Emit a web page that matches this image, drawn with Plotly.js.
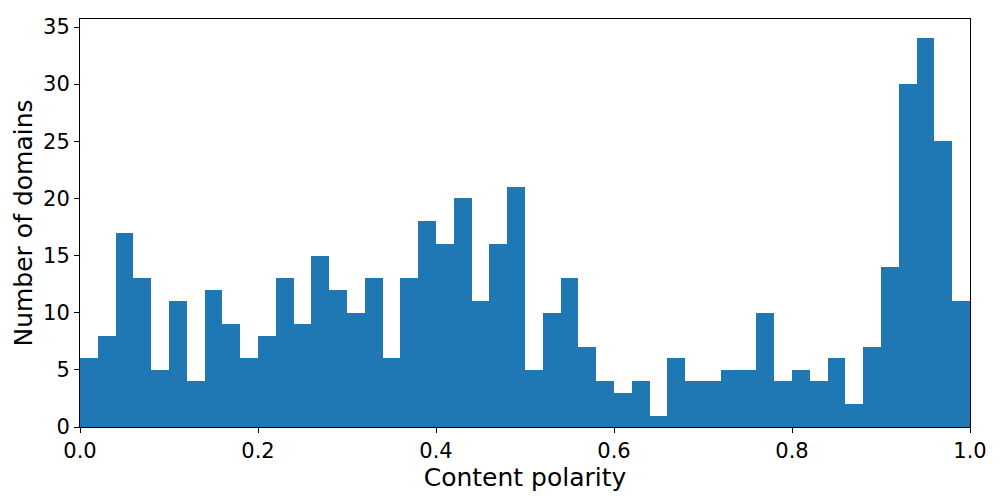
<!DOCTYPE html>
<html>
<head>
<meta charset="utf-8">
<script src="https://cdn.plot.ly/plotly-3.0.1.min.js"></script>
<style>
  body { margin: 0; background: #fff; }
  #chart { width: 1000px; height: 500px; }
</style>
</head>
<body>
<div id="chart"></div>
<script>
// histogram counts, 50 bins over [0, 1]
var binStart = 0;
var binWidth = 0.02;
var counts = [
  6, 8, 17, 13, 5, 11, 4, 12, 9, 6,
  8, 13, 9, 15, 12, 10, 13, 6, 13, 18,
  16, 20, 11, 16, 21, 5, 10, 13, 7, 4,
  3, 4, 1, 6, 4, 4, 5, 5, 10, 4,
  5, 4, 6, 2, 7, 14, 30, 34, 25, 11
];
var xTicks = [0, 0.2, 0.4, 0.6, 0.8, 1.0];
var xTickLabels = ['0.0', '0.2', '0.4', '0.6', '0.8', '1.0'];
var yTicks = [0, 5, 10, 15, 20, 25, 30, 35];

var centers = counts.map(function(c, i) { return binStart + binWidth * (i + 0.5); });

var trace = {
  type: 'bar',
  x: centers,
  y: counts,
  width: binWidth,
  marker: { color: '#1f77b4', line: { width: 0 } },
  hoverinfo: 'x+y'
};

var axisStyle = {
  showgrid: false,
  zeroline: false,
  showline: true,
  linecolor: '#000',
  linewidth: 1,
  mirror: true,
  ticks: 'outside',
  ticklen: 5,
  tickwidth: 1,
  tickcolor: '#000',
  tickfont: { family: 'DejaVu Sans', size: 21, color: '#000' }
};

var layout = {
  width: 1000,
  height: 500,
  margin: { l: 80, r: 30, t: 19, b: 73 },
  paper_bgcolor: '#fff',
  plot_bgcolor: '#fff',
  showlegend: false,
  bargap: 0,
  xaxis: Object.assign({}, axisStyle, {
    range: [0, 1],
    tickvals: xTicks,
    ticktext: xTickLabels,
    title: { text: 'Content polarity', font: { family: 'DejaVu Sans', size: 25, color: '#000' }, standoff: 0 }
  }),
  yaxis: Object.assign({}, axisStyle, {
    range: [0, 35.7],
    tickvals: yTicks,
    title: { text: 'Number of domains', font: { family: 'DejaVu Sans', size: 25, color: '#000' }, standoff: 3 }
  })
};

Plotly.newPlot('chart', [trace], layout, { displayModeBar: false, staticPlot: true });
</script>
</body>
</html>
